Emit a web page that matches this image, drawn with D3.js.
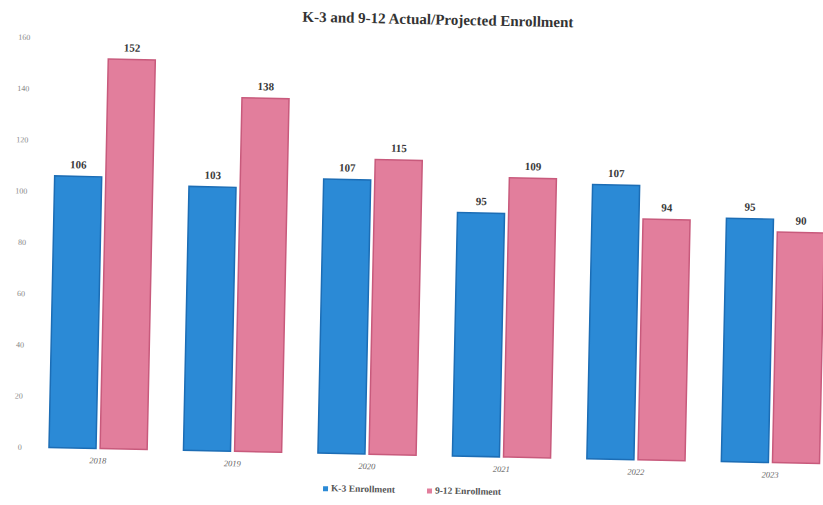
<!DOCTYPE html>
<html>
<head>
<meta charset="utf-8">
<script src="https://cdn.jsdelivr.net/npm/d3@7/dist/d3.min.js"></script>
<style>
  html, body { margin: 0; padding: 0; background: #fff; }
  svg { display: block; }
</style>
</head>
<body>
<svg id="chart" width="823" height="505"></svg>
<script>
// Enrollment data by school year
const years = ["2018", "2019", "2020", "2021", "2022", "2023"];
const seriesNames = ["K-3 Enrollment", "9-12 Enrollment"];
const k3Values = [106, 103, 107, 95, 107, 95];
const hsValues = [152, 138, 115, 109, 94, 90];
const yTicks = [0, 20, 40, 60, 80, 100, 120, 140, 160];
const titleText = "K-3 and 9-12 Actual/Projected Enrollment";

const fills = ["#2b8ad6", "#e27e9c"];
const strokes = ["#1c6db5", "#c85a7c"];

const rows = years.map((y, i) => ({ year: y, values: [k3Values[i], hsValues[i]] }));

const W = 823, H = 505;
const svg = d3.select("#chart");

// The whole sheet sits at a slight clockwise tilt
const root = svg.append("g").attr("transform", `rotate(1.2, ${W / 2}, 252)`);

const x0 = d3.scaleBand().domain(years).range([35, 842])
  .paddingInner(0.27).paddingOuter(0.135);
const x1 = d3.scaleBand().domain([0, 1]).range([0, x0.bandwidth()]).paddingInner(0.08);
const y = d3.scaleLinear().domain([0, 160]).range([455, 45]);

// Title
root.append("text")
  .attr("x", 433).attr("y", 24)
  .attr("text-anchor", "middle")
  .attr("font-family", "Liberation Serif, serif")
  .attr("font-weight", "bold")
  .attr("font-size", 15)
  .attr("fill", "#333")
  .text(titleText);

// Y axis (labels only)
const yAxis = root.append("g")
  .attr("transform", "translate(26,0)")
  .call(d3.axisLeft(y).tickValues(yTicks).tickSize(0).tickPadding(0));
yAxis.select(".domain").remove();
yAxis.selectAll("text")
  .attr("font-family", "Liberation Serif, serif")
  .attr("font-size", 8)
  .attr("fill", "#888");

// X axis (year labels only)
const xAxis = root.append("g")
  .attr("transform", "translate(0,464)")
  .call(d3.axisBottom(x0).tickSize(0).tickPadding(0));
xAxis.select(".domain").remove();
xAxis.selectAll("text")
  .attr("font-family", "Liberation Serif, serif")
  .attr("font-style", "italic")
  .attr("font-size", 8.5)
  .attr("fill", "#666");

// Bars
const groups = root.append("g").selectAll("g")
  .data(rows).join("g")
  .attr("transform", d => `translate(${x0(d.year)},0)`);

groups.selectAll("rect")
  .data(d => d.values.map((v, k) => ({ v, k })))
  .join("rect")
  .attr("x", d => x1(d.k))
  .attr("width", x1.bandwidth())
  .attr("y", d => y(d.v))
  .attr("height", d => y(0) - y(d.v))
  .attr("fill", d => fills[d.k])
  .attr("stroke", d => strokes[d.k])
  .attr("stroke-width", 1.5);

// Value labels
groups.selectAll("text.val")
  .data(d => d.values.map((v, k) => ({ v, k })))
  .join("text")
  .attr("class", "val")
  .attr("x", d => x1(d.k) + x1.bandwidth() / 2)
  .attr("y", d => y(d.v) - 8)
  .attr("text-anchor", "middle")
  .attr("font-family", "Liberation Serif, serif")
  .attr("font-weight", "bold")
  .attr("font-size", 11)
  .attr("fill", "#3a3a3a")
  .text(d => d.v);

// Legend
const legendX = [328, 432];
const legend = root.append("g").selectAll("g")
  .data(seriesNames).join("g")
  .attr("transform", (d, i) => `translate(${legendX[i]},493)`);
legend.append("rect")
  .attr("x", 0).attr("y", -5).attr("width", 5).attr("height", 5)
  .attr("fill", (d, i) => fills[i]);
legend.append("text")
  .attr("x", 8).attr("y", 0)
  .attr("font-family", "Liberation Serif, serif")
  .attr("font-weight", "bold")
  .attr("font-size", 9.5)
  .attr("fill", "#555")
  .text(d => d);
</script>
</body>
</html>
